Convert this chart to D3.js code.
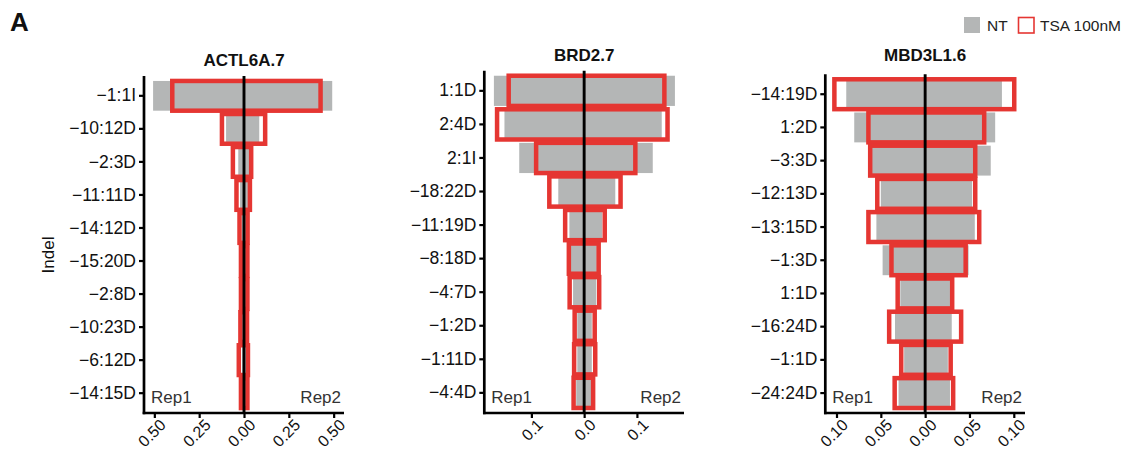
<!DOCTYPE html>
<html>
<head>
<meta charset="utf-8">
<script src="https://cdn.jsdelivr.net/npm/d3@7"></script>
<style>
  body { margin: 0; background: #fff; }
  text { font-family: "Liberation Sans", Arial, Helvetica, sans-serif; }
</style>
</head>
<body>
<svg id="mySvg"></svg>
<script>
const svgWidth = 1127;
const svgHeight = 452;

// ACTL6A.7
const actlIndels = ["−1:1I", "−10:12D", "−2:3D", "−11:11D", "−14:12D", "−15:20D", "−2:8D", "−10:23D", "−6:12D", "−14:15D"];
const actlNTRep1 = [0.507, 0.100, 0.032, 0.022, 0.012, 0.008, 0.008, 0.008, 0.010, 0.008];
const actlNTRep2 = [0.492, 0.085, 0.033, 0.022, 0.010, 0.008, 0.008, 0.008, 0.010, 0.008];
const actlTSARep1 = [0.400, 0.123, 0.062, 0.042, 0.025, 0.017, 0.017, 0.020, 0.029, 0.017];
const actlTSARep2 = [0.427, 0.118, 0.040, 0.033, 0.020, 0.019, 0.019, 0.017, 0.022, 0.019];
const actlTicks = [-0.5, -0.25, 0, 0.25, 0.5];

// BRD2.7
const brdIndels = ["1:1D", "2:4D", "2:1I", "−18:22D", "−11:19D", "−8:18D", "−4:7D", "−1:2D", "−1:11D", "−4:4D"];
const brdNTRep1 = [0.171, 0.151, 0.123, 0.049, 0.028, 0.025, 0.021, 0.013, 0.013, 0.015];
const brdNTRep2 = [0.172, 0.147, 0.130, 0.059, 0.034, 0.024, 0.023, 0.0145, 0.0145, 0.014];
const brdTSARep1 = [0.143, 0.165, 0.091, 0.066, 0.036, 0.029, 0.0275, 0.018, 0.019, 0.020];
const brdTSARep2 = [0.152, 0.158, 0.097, 0.069, 0.039, 0.0275, 0.0285, 0.020, 0.021, 0.017];
const brdTicks = [-0.1, 0, 0.1];

// MBD3L1.6
const mbdIndels = ["−14:19D", "1:2D", "−3:3D", "−12:13D", "−13:15D", "−1:3D", "1:1D", "−16:24D", "−1:1D", "−24:24D"];
const mbdNTRep1 = [0.089, 0.080, 0.062, 0.050, 0.055, 0.048, 0.028, 0.034, 0.0237, 0.030];
const mbdNTRep2 = [0.0866, 0.079, 0.074, 0.053, 0.056, 0.049, 0.028, 0.030, 0.0256, 0.028];
const mbdTSARep1 = [0.1024, 0.064, 0.062, 0.054, 0.064, 0.038, 0.031, 0.0406, 0.027, 0.0344];
const mbdTSARep2 = [0.1005, 0.0666, 0.0565, 0.0565, 0.061, 0.0457, 0.0305, 0.0406, 0.0288, 0.0316];
const mbdTicks = [-0.1, -0.05, 0, 0.05, 0.1];

const ntColor = '#b4b6b6';
const tsaColor = '#e53632';

const panels = [
  { title: 'ACTL6A.7', indels: actlIndels, nt1: actlNTRep1, nt2: actlNTRep2, tsa1: actlTSARep1, tsa2: actlTSARep2,
    ticks: actlTicks, fmt: '.2f', left: 144, right: 344, top: 76, bottom: 413, titleY: 66 },
  { title: 'BRD2.7', indels: brdIndels, nt1: brdNTRep1, nt2: brdNTRep2, tsa1: brdTSARep1, tsa2: brdTSARep2,
    ticks: brdTicks, fmt: '.1f', left: 484.3, right: 684, top: 70.7, bottom: 413, titleY: 61 },
  { title: 'MBD3L1.6', indels: mbdIndels, nt1: mbdNTRep1, nt2: mbdNTRep2, tsa1: mbdTSARep1, tsa2: mbdTSARep2,
    ticks: mbdTicks, fmt: '.2f', left: 825.3, right: 1025, top: 74.3, bottom: 413, titleY: 61 }
];

const svg = d3.select('#mySvg')
    .attr('width', svgWidth)
    .attr('height', svgHeight);

svg.append('text')
    .text('A')
    .attr('x', 10)
    .attr('y', 31)
    .attr('font-size', 26)
    .attr('font-weight', 'bold')
    .attr('fill', '#111');

svg.append('text')
    .text('Indel')
    .attr('transform', 'translate(54,255) rotate(-90)')
    .attr('text-anchor', 'middle')
    .attr('font-size', 17)
    .attr('fill', '#111');

panels.forEach(p => {
  const maxVal = d3.max([...p.nt1, ...p.nt2, ...p.tsa1, ...p.tsa2]) * 1.1;

  const x = d3.scaleLinear()
      .domain([-maxVal, maxVal])
      .range([p.left, p.right]);

  const y = d3.scaleBand()
      .domain(p.indels)
      .range([p.top, p.bottom])
      .paddingInner(0.1)
      .paddingOuter(0.15);

  const g = svg.append('g');

  g.selectAll('.nt')
      .data(p.indels)
      .enter()
      .append('rect')
      .attr('class', 'nt')
      .attr('x', (d, i) => x(-p.nt1[i]))
      .attr('y', d => y(d))
      .attr('width', (d, i) => x(p.nt2[i]) - x(-p.nt1[i]))
      .attr('height', y.bandwidth())
      .attr('fill', ntColor);

  g.selectAll('.tsa')
      .data(p.indels)
      .enter()
      .append('rect')
      .attr('class', 'tsa')
      .attr('x', (d, i) => x(-p.tsa1[i]))
      .attr('y', d => y(d))
      .attr('width', (d, i) => x(p.tsa2[i]) - x(-p.tsa1[i]))
      .attr('height', y.bandwidth())
      .attr('fill', 'none')
      .attr('stroke', tsaColor)
      .attr('stroke-width', 4.5);

  g.append('line')
      .attr('x1', x(0))
      .attr('x2', x(0))
      .attr('y1', p.top)
      .attr('y2', p.bottom)
      .attr('stroke', 'black')
      .attr('stroke-width', 2.9);

  // y axis
  const yAxis = g.append('g')
      .attr('transform', `translate(${p.left},0)`)
      .call(d3.axisLeft(y).tickSize(5).tickPadding(3));
  yAxis.select('.domain').remove();
  yAxis.append('line')
      .attr('x1', 0).attr('x2', 0)
      .attr('y1', p.top).attr('y2', p.bottom + 1.3)
      .attr('stroke', 'black').attr('stroke-width', 2.7);
  yAxis.selectAll('.tick line').attr('stroke', 'black').attr('stroke-width', 2.2);
  yAxis.selectAll('.tick text')
      .attr('font-size', 17.5)
      .attr('font-family', '"Liberation Sans", Arial, sans-serif')
      .attr('fill', '#111');

  // x axis, rotated labels kept inside the bottom edge
  const xAxis = g.append('g')
      .attr('transform', `translate(0,${p.bottom})`)
      .call(d3.axisBottom(x)
          .tickValues(p.ticks)
          .tickFormat(d => d3.format(p.fmt)(Math.abs(d)))
          .tickSize(5)
          .tickSizeOuter(0));
  xAxis.select('.domain').remove();
  xAxis.append('line')
      .attr('x1', p.left - 1.3).attr('x2', p.right)
      .attr('y1', 0).attr('y2', 0)
      .attr('stroke', 'black').attr('stroke-width', 2.7);
  xAxis.selectAll('.tick line').attr('stroke', 'black').attr('stroke-width', 2.2);
  xAxis.selectAll('.tick text')
      .attr('y', 0)
      .attr('dy', '0.71em')
      .attr('text-anchor', 'end')
      .attr('transform', 'translate(4,5) rotate(-45)')
      .attr('font-size', 16)
      .attr('font-family', '"Liberation Sans", Arial, sans-serif')
      .attr('fill', '#111');

  g.append('text')
      .text(p.title)
      .attr('x', (p.left + p.right) / 2)
      .attr('y', p.titleY)
      .attr('text-anchor', 'middle')
      .attr('font-size', 17)
      .attr('font-weight', 'bold')
      .attr('fill', '#111');

  g.append('text')
      .text('Rep1')
      .attr('x', p.left + 7)
      .attr('y', p.bottom - 10)
      .attr('font-size', 17)
      .attr('fill', '#333');

  g.append('text')
      .text('Rep2')
      .attr('x', p.right - 3)
      .attr('y', p.bottom - 10)
      .attr('text-anchor', 'end')
      .attr('font-size', 17)
      .attr('fill', '#333');
});

// legend
svg.append('rect')
    .attr('x', 964).attr('y', 17)
    .attr('width', 16).attr('height', 16)
    .attr('fill', ntColor);
svg.append('text')
    .text('NT')
    .attr('x', 987).attr('y', 31)
    .attr('font-size', 15.5)
    .attr('fill', '#222');
svg.append('rect')
    .attr('x', 1018.5).attr('y', 17.5)
    .attr('width', 15.5).attr('height', 15.5)
    .attr('fill', 'none')
    .attr('stroke', tsaColor)
    .attr('stroke-width', 1.6);
svg.append('text')
    .text('TSA 100nM')
    .attr('x', 1040).attr('y', 31)
    .attr('font-size', 15.5)
    .attr('fill', '#222');
</script>
</body>
</html>
